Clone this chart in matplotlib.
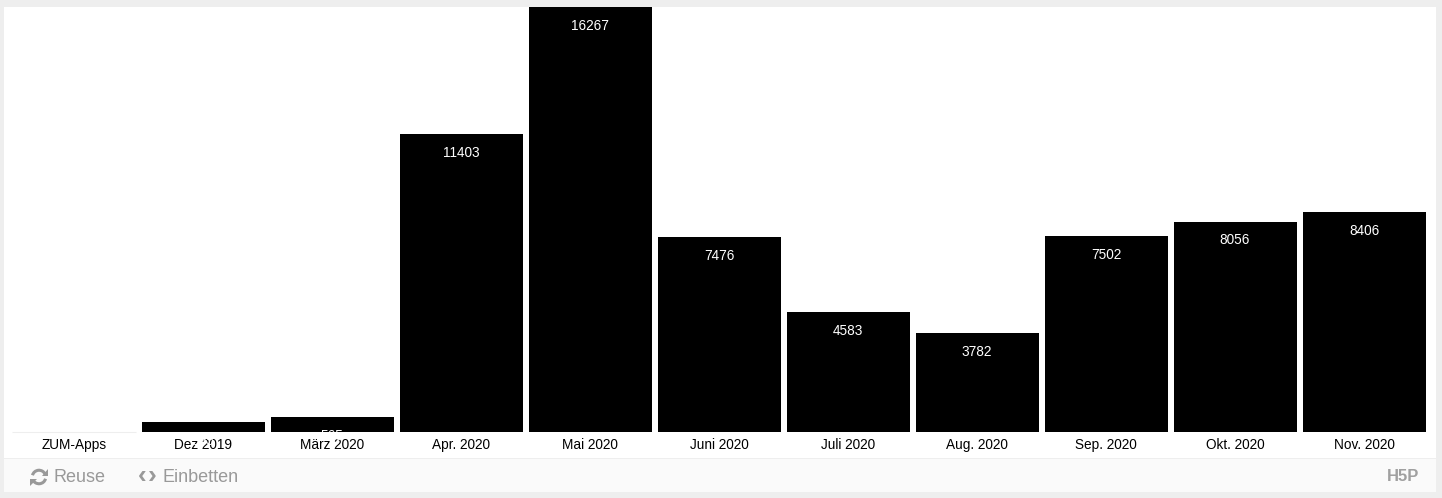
import matplotlib
matplotlib.use("Agg")
import matplotlib.pyplot as plt
from matplotlib.patches import Rectangle, Arc, Polygon

categories = ["ZUM-Apps", "Dez 2019", "März 2020", "Apr. 2020", "Mai 2020", "Juni 2020",
              "Juli 2020", "Aug. 2020", "Sep. 2020", "Okt. 2020", "Nov. 2020"]
values = [0, 395, 565, 11403, 16267, 7476, 4583, 3782, 7502, 8056, 8406]

W, H = 1442, 498
plt.rcParams['font.family'] = ['Liberation Sans', 'DejaVu Sans']

fig = plt.figure(figsize=(W / 100, H / 100), dpi=100, facecolor='#eeeeee')


def panel(x0, y0, x1, y1, color):
    # rectangle given in picture pixels, y measured from the top
    fig.patches.append(Rectangle((x0 / W, 1 - y1 / H), (x1 - x0) / W, (y1 - y0) / H,
                                 transform=fig.transFigure, facecolor=color, edgecolor='none', zorder=-1))


panel(4, 7, 1436, 458, '#ffffff')
panel(4, 459, 1436, 492, '#fafafa')

# axes run from the baseline (y=432) up to the top of the tallest bar (y=7)
ax = fig.add_axes([9.5 / W, 1 - 432 / H, 1419 / W, 425 / H])
ax.patch.set_alpha(0)
positions = list(range(len(categories)))
bars = ax.bar(positions, values, width=123 / 129, color='#000000', linewidth=0)
ax.set_xlim(-0.5, 10.5)
ax.set_ylim(0, max(values))
ax.set_yticks([])
ax.set_xticks(positions)
ax.set_xticklabels(categories, fontsize=9.8, color='#000000')
ax.tick_params(axis='x', length=0, pad=4.3)
for spine in ax.spines.values():
    spine.set_visible(False)

# faint line where the empty first bar sits
ax.plot([-0.477, 0.477], [0, 0], color='#eeeeee', linewidth=0.8, solid_capstyle='butt', clip_on=False)

# white value labels sit under the top of each bar, also over the tick labels for small bars
for pos, val in zip(positions, values):
    if val == 0:
        continue
    ax.annotate(str(val), xy=(pos, val), xytext=(0, -13.6), textcoords='offset points',
                ha='center', va='center', fontsize=9.8, color='#ffffff',
                annotation_clip=False, zorder=5)

# footer
grey = '#999999'

# reuse icon, two arcs with arrow heads, drawn in a small pixel-sized axes
icon = fig.add_axes([29 / W, 1 - 487 / H, 20 / W, 20 / H])
icon.set_xlim(-10, 10)
icon.set_ylim(-10, 10)
icon.axis('off')
icon.add_patch(Arc((0, 0), 13.5, 13.5, theta1=25, theta2=165, color=grey, linewidth=2.2))
icon.add_patch(Arc((0, 0), 13.5, 13.5, theta1=205, theta2=345, color=grey, linewidth=2.2))
icon.add_patch(Polygon([[9, 8.5], [9, 1.5], [2.5, 1.5]], color=grey, linewidth=0))
icon.add_patch(Polygon([[-9, -8.5], [-9, -1.5], [-2.5, -1.5]], color=grey, linewidth=0))

fig.text(54 / W, 1 - 477 / H, "Reuse", fontsize=13, color=grey, ha='left', va='center')
fig.text(142.5 / W, 1 - 475.5 / H, "\u2039", fontsize=19, color=grey, ha='center', va='center', fontweight='bold')
fig.text(152.5 / W, 1 - 475.5 / H, "\u203a", fontsize=19, color=grey, ha='center', va='center', fontweight='bold')
fig.text(163 / W, 1 - 477 / H, "Einbetten", fontsize=13, color=grey, ha='left', va='center')
fig.text(1403 / W, 1 - 476 / H, "H5P", fontsize=12, color='#a0a0a0', ha='center', va='center', fontweight='bold')

fig.savefig("out.png", dpi=100, facecolor=fig.get_facecolor())
plt.close(fig)
